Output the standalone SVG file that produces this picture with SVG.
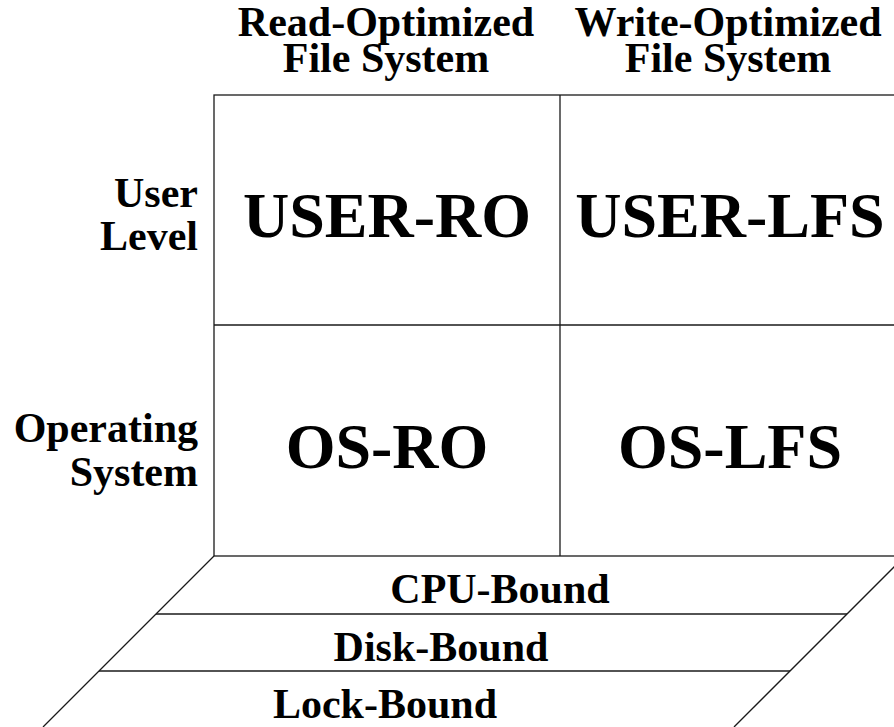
<svg xmlns="http://www.w3.org/2000/svg" width="894" height="727" viewBox="0 0 894 727">
<style>
text{font-family:"Liberation Serif","Times New Roman",serif;font-weight:bold;fill:#000}
.h{font-size:42px;text-anchor:middle}
.r{font-size:42px;text-anchor:end}
.big{font-size:64px;text-anchor:middle}
.ln{stroke:#1a1a1a;stroke-width:1.3;fill:none}
</style>
<rect width="894" height="727" fill="#fff"/>
<g id="col-headers">
<text class="h" x="386" y="36">Read-Optimized</text>
<text class="h" x="386" y="72">File System</text>
<text class="h" x="728" y="36">Write-Optimized</text>
<text class="h" x="728" y="72">File System</text>
</g>
<g id="row-headers">
<text class="r" x="198" y="207">User</text>
<text class="r" x="198" y="250">Level</text>
<text class="r" x="198" y="442">Operating</text>
<text class="r" x="198" y="486">System</text>
</g>
<g id="connectors">
<rect class="ln" x="214" y="95" width="691" height="461"/>
<line class="ln" x1="560" y1="95" x2="560" y2="556"/>
<line class="ln" x1="214" y1="325" x2="905" y2="325"/>
<line class="ln" x1="214" y1="556" x2="43" y2="727"/>
<line class="ln" x1="905" y1="556" x2="734" y2="727"/>
<line class="ln" x1="156" y1="614" x2="847" y2="614"/>
<line class="ln" x1="99" y1="671" x2="790" y2="671"/>
</g>
<g id="user-ro"><text class="big" x="387" y="237">USER-RO</text></g>
<g id="user-lfs"><text class="big" x="730" y="237">USER-LFS</text></g>
<g id="os-ro"><text class="big" x="387" y="468">OS-RO</text></g>
<g id="os-lfs"><text class="big" x="730" y="468">OS-LFS</text></g>
<g id="cpu-bound"><text class="h" x="500" y="603">CPU-Bound</text></g>
<g id="disk-bound"><text class="h" x="441" y="661">Disk-Bound</text></g>
<g id="lock-bound"><text class="h" x="385" y="718">Lock-Bound</text></g>
</svg>
